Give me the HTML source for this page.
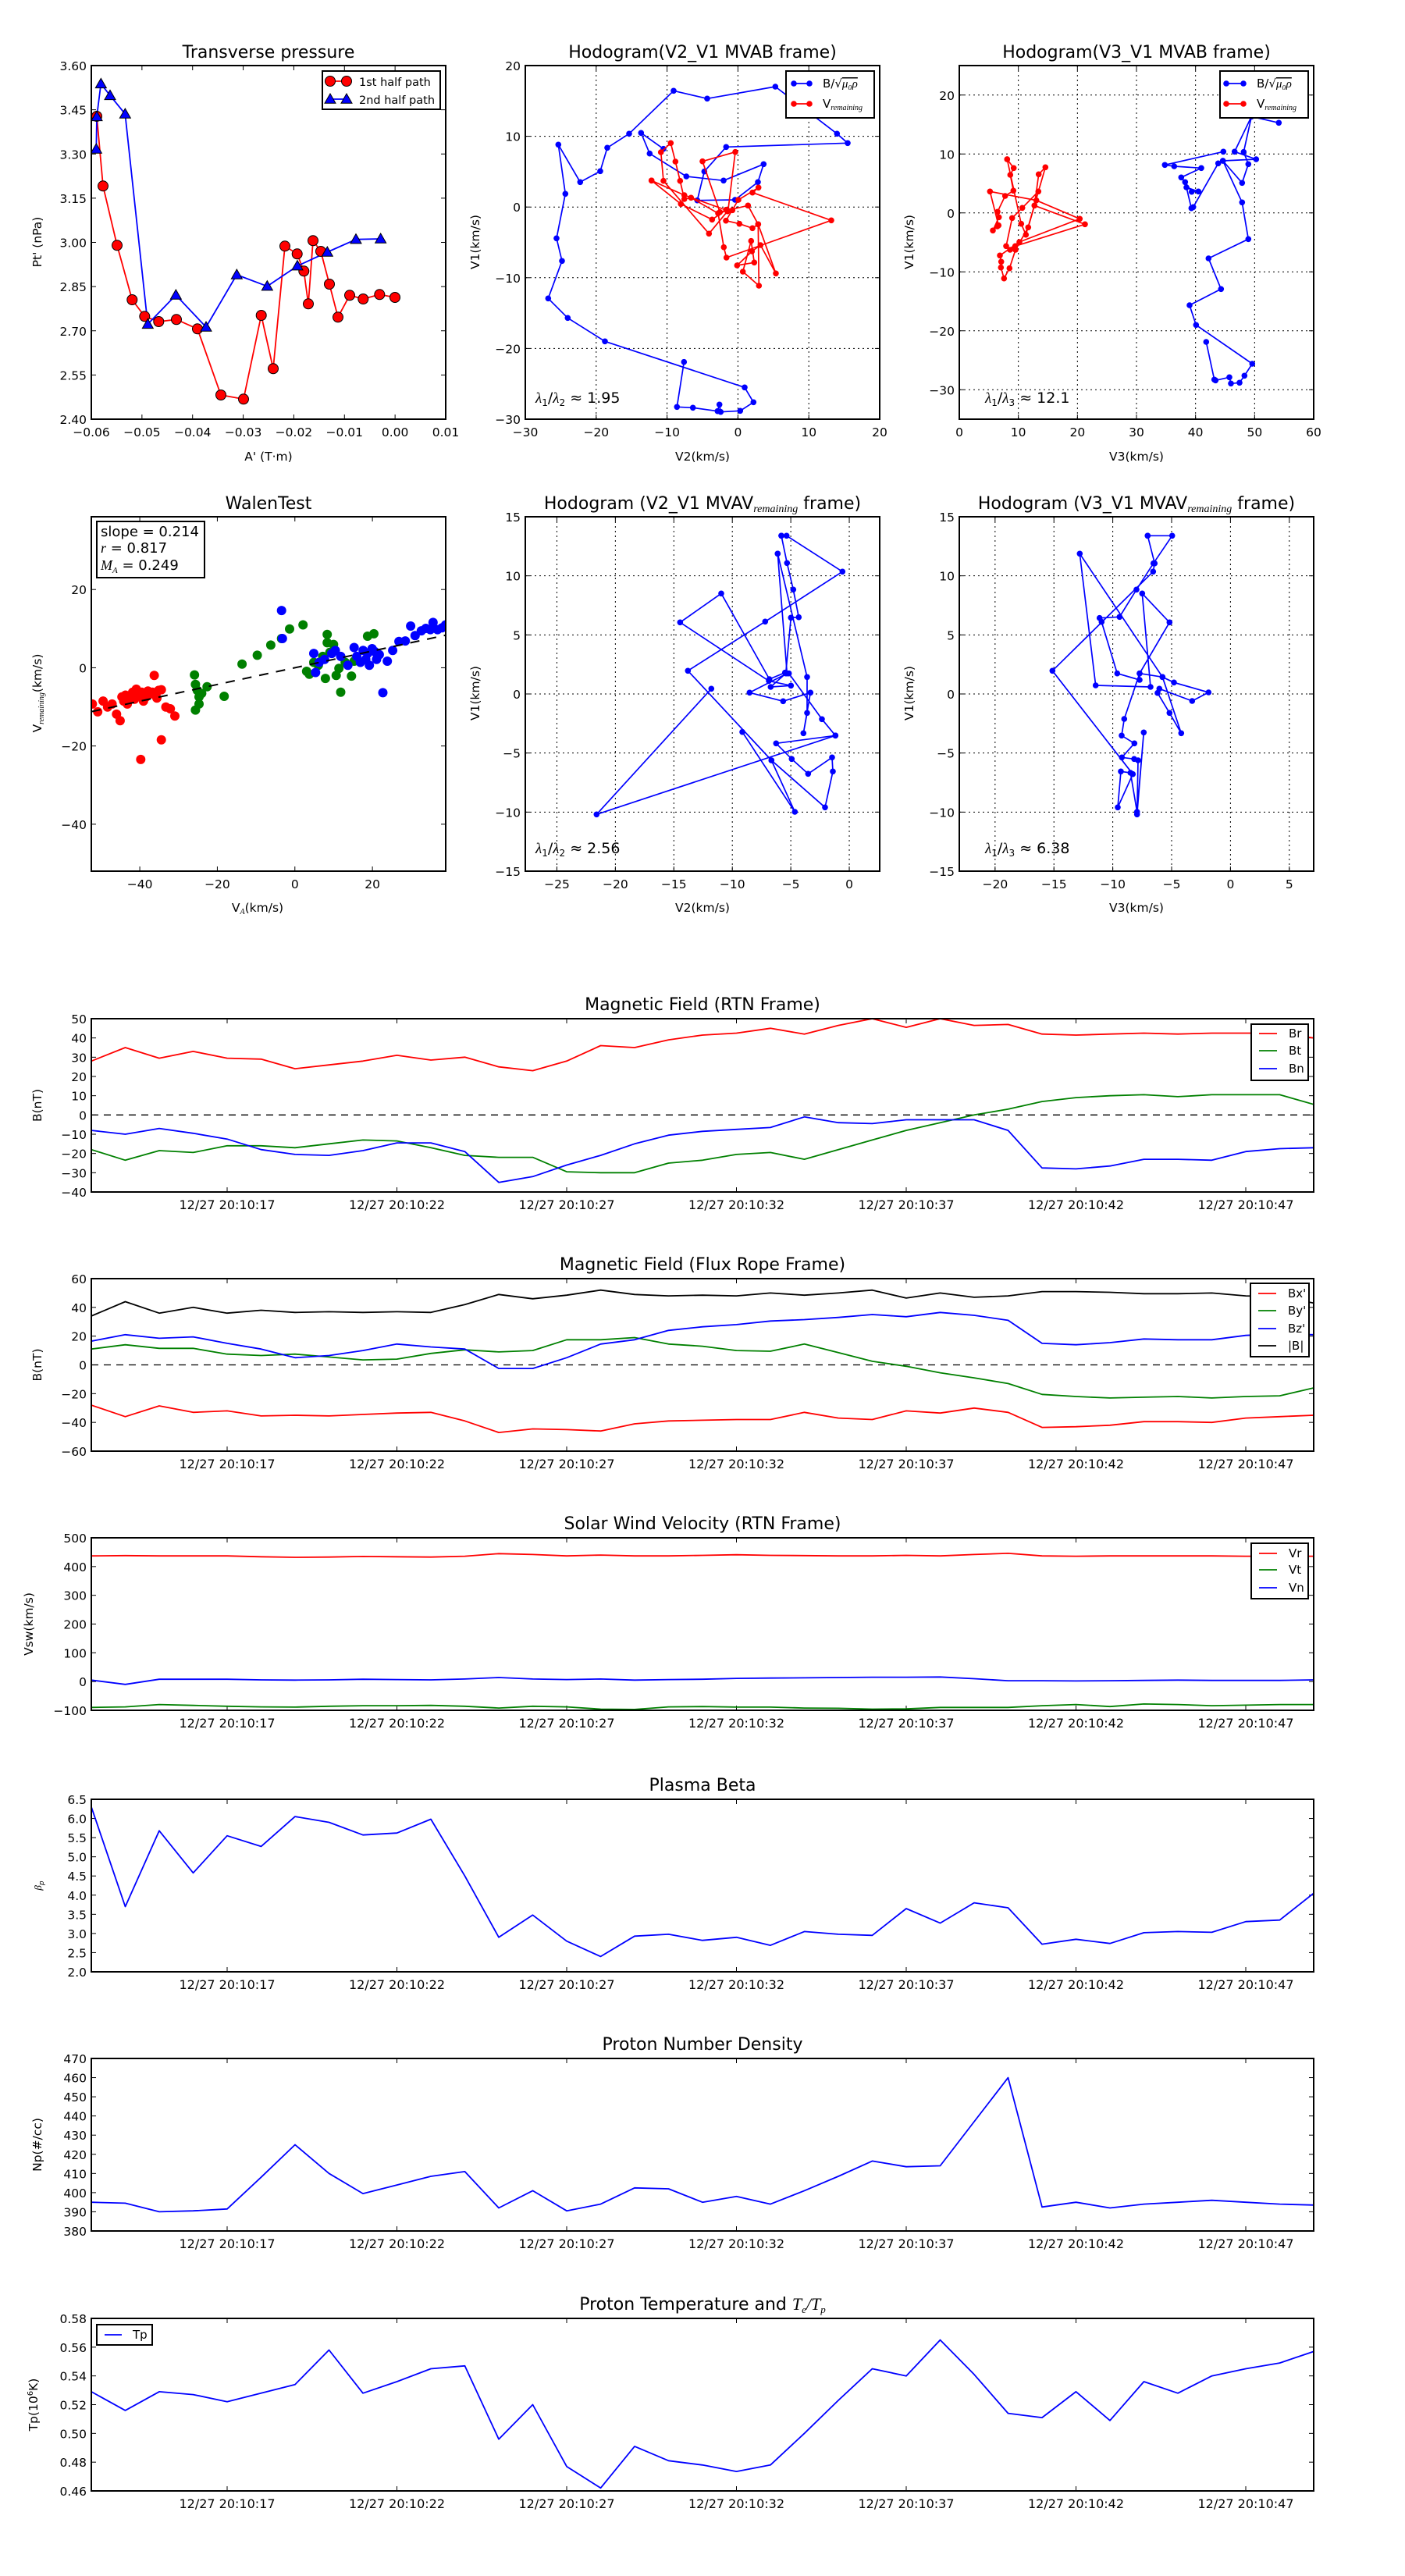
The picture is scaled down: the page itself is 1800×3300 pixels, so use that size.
<!DOCTYPE html>
<html><head><meta charset="utf-8"><style>
html,body{margin:0;padding:0;background:#fff;}
svg{display:block;}
text{font-family:"DejaVu Sans","Liberation Sans",sans-serif;fill:#000;}
</style></head><body>
<svg id="s" xmlns="http://www.w3.org/2000/svg" width="1800" height="3300" viewBox="0 0 1800 3300"></svg>
<script>
var s='';var cid=0;
function fmtm(v){return v<0?'\u2212'+String(-v):String(v);}
function txt(x,y,t,o){o=o||{};s+='<text x="'+x+'" y="'+y+'" font-size="'+(o.fs||15.5)+'" text-anchor="'+(o.a||'start')+'"'+(o.rot?' transform="rotate(-90 '+x+' '+y+')"':'')+(o.it?' font-style="italic" font-family="Liberation Serif,serif"':'')+'>'+t+'</text>';}
function pl(pts,c,w,dash){s+='<polyline fill="none" stroke="'+c+'" stroke-width="'+(w||1.6)+'" stroke-linejoin="round"'+(dash?' stroke-dasharray="'+dash+'"':'')+' points="'+pts.map(function(p){return p[0].toFixed(1)+','+p[1].toFixed(1)}).join(' ')+'"/>';}
function dots(pts,c,r,edge){pts.forEach(function(p){s+='<circle cx="'+p[0].toFixed(1)+'" cy="'+p[1].toFixed(1)+'" r="'+r+'" fill="'+c+'"'+(edge?' stroke="#000" stroke-width="1"':'')+'/>';});}
function tris(pts,c,r){pts.forEach(function(p){var x=p[0],y=p[1];s+='<polygon points="'+x+','+(y-r)+' '+(x-r)+','+(y+r*0.75)+' '+(x+r)+','+(y+r*0.75)+'" fill="'+c+'" stroke="#000" stroke-width="1"/>';});}
function axes(b,xr,yr,xt,yt,o){o=o||{};
 var mx=function(v){return b[0]+(v-xr[0])/(xr[1]-xr[0])*(b[2]-b[0]);};
 var my=function(v){return b[3]-(v-yr[0])/(yr[1]-yr[0])*(b[3]-b[1]);};
 xt.forEach(function(t){var v=t[0],px=mx(v);
  if(o.grid)s+='<line x1="'+px+'" y1="'+b[1]+'" x2="'+px+'" y2="'+b[3]+'" stroke="#000" stroke-width="1" stroke-dasharray="2,4"/>';
  s+='<line x1="'+px+'" y1="'+b[3]+'" x2="'+px+'" y2="'+(b[3]-6)+'" stroke="#000" stroke-width="1"/>';
  s+='<line x1="'+px+'" y1="'+b[1]+'" x2="'+px+'" y2="'+(b[1]+6)+'" stroke="#000" stroke-width="1"/>';
  txt(px,b[3]+22,t[1],{a:'middle',fs:o.tfs||15.5});});
 yt.forEach(function(t){var v=t[0],py=my(v);
  if(o.grid)s+='<line x1="'+b[0]+'" y1="'+py+'" x2="'+b[2]+'" y2="'+py+'" stroke="#000" stroke-width="1" stroke-dasharray="2,4"/>';
  s+='<line x1="'+b[0]+'" y1="'+py+'" x2="'+(b[0]+6)+'" y2="'+py+'" stroke="#000" stroke-width="1"/>';
  s+='<line x1="'+b[2]+'" y1="'+py+'" x2="'+(b[2]-6)+'" y2="'+py+'" stroke="#000" stroke-width="1"/>';
  txt(b[0]-6,py+6,t[1],{a:'end'});});
 return {mx:mx,my:my};}
function clipStart(b){cid++;s+='<clipPath id="c'+cid+'"><rect x="'+b[0]+'" y="'+b[1]+'" width="'+(b[2]-b[0])+'" height="'+(b[3]-b[1])+'"/></clipPath><g clip-path="url(#c'+cid+')">';}
function clipEnd(){s+='</g>';}
function frame(b){s+='<rect x="'+b[0]+'" y="'+b[1]+'" width="'+(b[2]-b[0])+'" height="'+(b[3]-b[1])+'" fill="none" stroke="#000" stroke-width="2"/>';}
function rng(a,b,st){var r=[];for(var v=a;v<=b+1e-9;v+=st)r.push(Math.round(v*1000)/1000);return r;}
function Z(ox,oy,arr){return arr.map(function(p){return [ox+p[0]/3,oy+p[1]/3];});}
function D(arr){return arr.map(function(p){return [p[0]*1.1486,p[1]*0.763+1.6];});}
function legbox(x0,y0,x1,y1){s+='<rect x="'+x0+'" y="'+y0+'" width="'+(x1-x0)+'" height="'+(y1-y0)+'" fill="#fff" stroke="#000" stroke-width="2"/>';}

// ===== Row 1 =====
var R1=[84,537],R2=[662,1116];
var C1=[117,571],C2=[673,1127],C3=[1229,1683];
// Transverse pressure
var b=[C1[0],R1[0],C1[1],R1[1]];
axes(b,[-0.06,0.01],[2.40,3.60],rng(-0.06,0.01,0.01).map(function(v){return [v,fmtm(v.toFixed(2)).replace('\u2212-','\u2212')];}),rng(2.4,3.6,0.15).map(function(v){return [v,v.toFixed(2)];}));
var red=Z(100,60,[[72,267],[96,535],[150,763],[208,972],[256,1036],[310,1056],[378,1048],[459,1084],[549,1338],[636,1354],[704,1032],[750,1237],[795,766],[842,796],[868,862],[885,988],[903,745],[933,786],[966,912],[999,1039],[1044,955],[1096,969],[1159,952],[1218,963]]);
var blu=Z(100,60,[[70,393],[72,268],[88,142],[123,187],[181,258],[268,1066],[376,954],[492,1077],[610,876],[727,920],[843,842],[958,789],[1068,740],[1163,738]]);
clipStart(b);pl(red,'#f00',1.8);pl(blu,'#00f',1.8);dots(red,'#f00',6.5,true);tris(blu,'#00f',7);clipEnd();
frame(b);
legbox(413,91,564,140);
pl([[423,104],[444,104]],'#f00',1.8);dots([[423,104],[444,104]],'#f00',6.5,true);txt(460,110,'1st half path',{fs:14.5});
pl([[423,127],[444,127]],'#00f',1.8);tris([[423,127],[444,127]],'#00f',7);txt(460,133,'2nd half path',{fs:14.5});
txt(344,74,'Transverse pressure',{a:'middle',fs:22});
txt(344,590,"A' (T\u00b7m)",{a:'middle'});
txt(53,310,"Pt' (nPa)",{a:'middle',rot:1});

// Hodogram V2_V1 MVAB
b=[C2[0],R1[0],C2[1],R1[1]];
axes(b,[-30,20],[-30,20],rng(-30,20,10).map(function(v){return [v,fmtm(v)];}),rng(-30,20,10).map(function(v){return [v,fmtm(v)];}),{grid:1});
var hb=Z(660,60,[[649,1211],[622,1384],[683,1387],[778,1400],[785,1375],[790,1403],[865,1399],[916,1366],[882,1309],[345,1132],[202,1042],[127,967],[180,823],[159,736],[193,565],[166,376],[250,520],[327,478],[354,388],[438,334],[609,169],[738,199],[1000,153],[1237,334],[1278,370],[811,385],[727,479],[700,590],[845,588],[933,520],[955,451],[801,514],[658,498],[517,410],[484,331],[570,392]]);
var hr=Z(660,60,[[524,514],[637,604],[757,664],[811,626],[835,628],[816,632],[745,718],[570,515],[560,405],[598,370],[616,441],[634,515],[650,585],[676,580],[780,640],[802,770],[812,810],[1215,667],[912,560],[935,541],[858,588],[810,668],[862,680],[912,697],[934,682],[937,918],[875,864],[907,746],[919,829],[853,840],[910,786],[943,762],[1002,871],[934,682],[895,610],[787,635],[720,440],[846,404],[818,630],[650,570],[524,514]]);
clipStart(b);pl(hb,'#00f',1.7);dots(hb,'#00f',3.8);pl(hr,'#f00',1.7);dots(hr,'#f00',3.8);clipEnd();frame(b);
legbox(1007,91,1120,151);
pl([[1017,107],[1037,107]],'#00f',1.8);dots([[1017,107],[1037,107]],'#00f',3.8);
s+='<text x="1054" y="112" font-size="15">B/\u221a<tspan font-style="italic" font-family="Liberation Serif,serif" text-decoration="overline">\u03bc\u2080\u03c1</tspan></text>';
pl([[1017,133],[1037,133]],'#f00',1.8);dots([[1017,133],[1037,133]],'#f00',3.8);
s+='<text x="1054" y="138" font-size="15">V<tspan font-size="10" font-style="italic" font-family="Liberation Serif,serif" dy="3">remaining</tspan></text>';
txt(900,74,'Hodogram(V2_V1 MVAB frame)',{a:'middle',fs:22});
txt(900,590,'V2(km/s)',{a:'middle'});
txt(614,310,'V1(km/s)',{a:'middle',rot:1});
s+='<text x="686" y="516" font-size="19"><tspan font-style="italic" font-family="Liberation Serif,serif">\u03bb</tspan><tspan font-size="12" dy="4">1</tspan><tspan dy="-4">/</tspan><tspan font-style="italic" font-family="Liberation Serif,serif">\u03bb</tspan><tspan font-size="12" dy="4">2</tspan><tspan dy="-4"> \u2248 1.95</tspan></text>';

// Hodogram V3_V1 MVAB
b=[C3[0],R1[0],C3[1],R1[1]];
axes(b,[0,60],[-35,25],rng(0,60,10).map(function(v){return [v,fmtm(v)];}),rng(-30,20,10).map(function(v){return [v,fmtm(v)];}),{grid:1});
var hb3=Z(1200,60,[[1102,403],[877,454],[913,459],[1017,466],[940,502],[955,520],[980,557],[1006,556],[960,540],[979,620],[986,616],[1082,448],[1100,438],[1174,523],[1198,451],[1180,404],[1210,268],[1315,292],[1210,268],[1145,403],[1228,432],[1100,438],[1174,598],[1198,739],[1045,813],[1093,931],[972,993],[997,1069],[1213,1218],[1183,1264],[1164,1291],[1131,1294],[1125,1270],[1072,1282],[1067,1279],[1036,1134]]);
var hr3=Z(1200,60,[[271,432],[296,466],[283,492],[295,553],[263,573],[234,634],[239,655],[216,706],[233,690],[238,686],[205,556],[383,590],[550,661],[318,750],[243,802],[248,826],[247,848],[259,890],[280,851],[303,780],[352,694],[376,610],[391,556],[329,619],[290,658],[267,766],[282,780],[302,766],[570,682],[376,610],[392,490],[418,463],[343,722],[325,680],[271,432]]);
clipStart(b);pl(hb3,'#00f',1.7);dots(hb3,'#00f',3.8);pl(hr3,'#f00',1.7);dots(hr3,'#f00',3.8);clipEnd();frame(b);
legbox(1563,91,1676,151);
pl([[1571,107],[1593,107]],'#00f',1.8);dots([[1571,107],[1593,107]],'#00f',3.8);
s+='<text x="1610" y="112" font-size="15">B/\u221a<tspan font-style="italic" font-family="Liberation Serif,serif" text-decoration="overline">\u03bc\u2080\u03c1</tspan></text>';
pl([[1571,133],[1593,133]],'#f00',1.8);dots([[1571,133],[1593,133]],'#f00',3.8);
s+='<text x="1610" y="138" font-size="15">V<tspan font-size="10" font-style="italic" font-family="Liberation Serif,serif" dy="3">remaining</tspan></text>';
txt(1456,74,'Hodogram(V3_V1 MVAB frame)',{a:'middle',fs:22});
txt(1456,590,'V3(km/s)',{a:'middle'});
txt(1170,310,'V1(km/s)',{a:'middle',rot:1});
s+='<text x="1262" y="516" font-size="19"><tspan font-style="italic" font-family="Liberation Serif,serif">\u03bb</tspan><tspan font-size="12" dy="4">1</tspan><tspan dy="-4">/</tspan><tspan font-style="italic" font-family="Liberation Serif,serif">\u03bb</tspan><tspan font-size="12" dy="4">3</tspan><tspan dy="-4"> \u2248 12.1</tspan></text>';

// ===== Row 2 =====
// Walen
b=[C1[0],R2[0],C1[1],R2[1]];
var W=axes(b,[-52.5,38.9],[-52,38.6],[-40,-20,0,20].map(function(v){return [v,fmtm(v)];}),[-40,-20,0,20].map(function(v){return [v,fmtm(v)];}));
var wr=D([[103,1180],[109,1193],[115,1175],[120,1185],[125,1180],[130,1197],[134,1208],[138,1175],[140,1165],[145,1170],[148,1160],[150,1172],[152,1155],[155,1165],[158,1160],[160,1175],[163,1168],[165,1158],[168,1163],[170,1160],[172,1132],[174,1162],[177,1157],[180,1156],[180,1240],[185,1185],[190,1188],[195,1200],[157,1273],[175,1170],[142,1180],[136,1168]]);
var wg=D([[217,1131],[218,1147],[220,1157],[222,1168],[218,1190],[222,1180],[225,1162],[231,1151],[250,1167],[270,1113],[287,1098],[302,1081],[314,1070],[323,1054],[338,1047],[342,1125],[345,1130],[350,1110],[355,1115],[360,1100],[363,1137],[365,1077],[368,1093],[372,1080],[375,1132],[378,1120],[380,1160],[385,1110],[392,1133],[395,1108],[410,1066],[417,1062],[365,1063]]);
var wb=D([[314,1023],[315,1070],[350,1095],[352,1127],[356,1110],[362,1105],[370,1095],[374,1090],[380,1100],[388,1115],[395,1085],[398,1100],[402,1110],[405,1090],[408,1105],[410,1095],[412,1115],[415,1087],[418,1092],[420,1105],[423,1097],[427,1161],[432,1108],[438,1090],[445,1075],[452,1074],[458,1049],[463,1065],[470,1057],[475,1053],[480,1055],[483,1043],[488,1055],[493,1052],[497,1047]]);
clipStart(b);dots(wr,'#f00',6);dots(wg,'#008000',6);dots(wb,'#00f',6);
pl([[W.mx(-52.5),W.my(-52.5*0.214)],[W.mx(38.9),W.my(38.9*0.214)]],'#000',2,'12,10');clipEnd();frame(b);
legbox(124,668,262,740);
txt(129,687,'slope = 0.214',{fs:18});
s+='<text x="129" y="708" font-size="18"><tspan font-style="italic" font-family="Liberation Serif,serif">r</tspan> = 0.817</text>';
s+='<text x="129" y="730" font-size="18"><tspan font-style="italic" font-family="Liberation Serif,serif">M</tspan><tspan font-size="11" font-style="italic" font-family="Liberation Serif,serif" dy="4">A</tspan><tspan dy="-4"> = 0.249</tspan></text>';
txt(344,652,'WalenTest',{a:'middle',fs:22});
s+='<text x="330" y="1168" font-size="15.5" text-anchor="middle">V<tspan font-size="10" font-style="italic" font-family="Liberation Serif,serif" dy="3">A</tspan><tspan dy="-3">(km/s)</tspan></text>';
s+='<text x="53" y="888" font-size="15.5" text-anchor="middle" transform="rotate(-90 53 888)">V<tspan font-size="10" font-style="italic" font-family="Liberation Serif,serif" dy="3">remaining</tspan><tspan dy="-3">(km/s)</tspan></text>';

// Hodogram V2_V1 MVAV
b=[C2[0],R2[0],C2[1],R2[1]];
axes(b,[-27.7,2.6],[-15,15],rng(-25,0,5).map(function(v){return [v,fmtm(v)];}),rng(-15,15,5).map(function(v){return [v,fmtm(v)];}),{grid:1});
var m1=[[1023,139],[1043,139],[1258,277],[961,469],[664,658],[985,1002],[1191,1183],[1221,1045],[1218,991],[1126,1054],[1063,997],[1003,937],[1231,907],[1179,844],[1052,668],[1037,665],[977,690],[792,361],[634,472],[975,697],[1060,715],[982,720],[1040,668],[1060,454],[1090,452],[1069,346],[1045,244],[1023,139]];
var m2=[[1009,208],[1122,682],[1122,820],[1108,898],[1135,742],[1030,775],[901,742],[1045,668],[1009,208]];
var m3=[[754,727],[313,1210],[1231,907]];var m4=[[873,893],[1075,1200],[985,1002]];
clipStart(b);[m1,m2,m3,m4].forEach(function(a){var p=Z(660,640,a);pl(p,'#00f',1.7);dots(p,'#00f',3.8);});clipEnd();frame(b);
s+='<text x="900" y="652" font-size="22" text-anchor="middle">Hodogram (V2_V1 MVAV<tspan font-size="14" font-style="italic" font-family="Liberation Serif,serif" dy="4">remaining</tspan><tspan dy="-4"> frame)</tspan></text>';
txt(900,1168,'V2(km/s)',{a:'middle'});
txt(614,888,'V1(km/s)',{a:'middle',rot:1});
s+='<text x="686" y="1093" font-size="19"><tspan font-style="italic" font-family="Liberation Serif,serif">\u03bb</tspan><tspan font-size="12" dy="4">1</tspan><tspan dy="-4">/</tspan><tspan font-style="italic" font-family="Liberation Serif,serif">\u03bb</tspan><tspan font-size="12" dy="4">2</tspan><tspan dy="-4"> \u2248 2.56</tspan></text>';

// Hodogram V3_V1 MVAV
b=[C3[0],R2[0],C3[1],R2[1]];
axes(b,[-23.04,7.07],[-15,15],rng(-20,5,5).map(function(v){return [v,fmtm(v)];}),rng(-15,15,5).map(function(v){return [v,fmtm(v)];}),{grid:1});
var n1=Z(1220,640,[[751,139],[845,139],[773,245],[708,346],[643,451],[566,455],[574,470],[634,668],[720,693],[720,668],[808,682],[852,703],[985,741],[922,774],[796,727],[789,743],[835,820],[880,898],[808,682],[490,208],[551,714],[762,720],[730,361],[835,472],[720,668],[661,843],[651,907],[700,937],[652,991],[699,997],[714,1002],[710,1210],[736,895],[710,1200],[685,1050],[648,1045],[636,1183],[694,1055],[385,658],[772,277],[778,245],[751,139]]);
clipStart(b);pl(n1,'#00f',1.7);dots(n1,'#00f',3.8);clipEnd();frame(b);
s+='<text x="1456" y="652" font-size="22" text-anchor="middle">Hodogram (V3_V1 MVAV<tspan font-size="14" font-style="italic" font-family="Liberation Serif,serif" dy="4">remaining</tspan><tspan dy="-4"> frame)</tspan></text>';
txt(1456,1168,'V3(km/s)',{a:'middle'});
txt(1170,888,'V1(km/s)',{a:'middle',rot:1});
s+='<text x="1262" y="1093" font-size="19"><tspan font-style="italic" font-family="Liberation Serif,serif">\u03bb</tspan><tspan font-size="12" dy="4">1</tspan><tspan dy="-4">/</tspan><tspan font-style="italic" font-family="Liberation Serif,serif">\u03bb</tspan><tspan font-size="12" dy="4">3</tspan><tspan dy="-4"> \u2248 6.38</tspan></text>';

// ===== Time series =====
var XT=[17,22,27,32,37,42,47].map(function(v){return [v,'12/27 20:10:'+v];});
function ts(y0,y1,yr,yt,yfmt,series,title,ylab,ylx,zero){
 var b=[117,y0,1683,y1];
 var A=axes(b,[13,49],yr,XT,yt.map(function(v){return [v,yfmt(v)];}),{tfs:16});
 clipStart(b);
 if(zero)pl([[117,A.my(0)],[1683,A.my(0)]],'#000',1.3,'9,7');
 series.forEach(function(se){pl(se[0].map(function(v,i){return [A.mx(13+i),A.my(v)];}),se[1],1.8);});
 clipEnd();frame(b);
 s+='<text x="900" y="'+(y0-11)+'" font-size="22" text-anchor="middle">'+title+'</text>';
 s+='<text x="'+ylx+'" y="'+((y0+y1)/2)+'" font-size="15.5" text-anchor="middle" transform="rotate(-90 '+ylx+' '+((y0+y1)/2)+')">'+ylab+'</text>';
 return A;}
function tl(v){return fmtm(v);}
function legend(x0,y0,x1,y1,rows){legbox(x0,y0,x1,y1);rows.forEach(function(r){pl([[x0+10,r[0]],[x0+33,r[0]]],r[1],1.8);txt(x0+48,r[0]+5,r[2],{fs:15});});}

var Br=[28,35,29.5,33,29.5,29,24,26,28,31,28.5,30,25,23,28,36,35,39,41.5,42.5,45,42,46.5,50,45.5,50,46.5,47,42,41.5,42,42.5,42,42.5,42.5,42.5,40];
var Bt=[-18,-23.5,-18.5,-19.5,-16,-16,-17,-15,-13,-13.5,-17,-21,-22,-22,-29.5,-30,-30,-25,-23.5,-20.5,-19.5,-23,-18,-13,-8,-4,0,3,7,9,10,10.5,9.5,10.5,10.5,10.5,5.5];
var Bn=[-8,-10,-7,-9.5,-12.5,-18,-20.5,-21,-18.5,-14.5,-14.5,-19,-35,-32,-26,-21,-15,-10.5,-8.5,-7.5,-6.5,-1,-4,-4.5,-2.5,-2.5,-2.5,-8,-27.5,-28,-26.5,-23,-23,-23.5,-19,-17.5,-17];
ts(1305,1527,[-40,50],rng(-40,50,10),tl,[[Br,'#f00'],[Bt,'#008000'],[Bn,'#00f']],'Magnetic Field (RTN Frame)','B(nT)',53,1);
legend(1603,1312,1676,1384,[[1324,'#f00','Br'],[1346,'#008000','Bt'],[1369,'#00f','Bn']]);

var Bm=[34,44,36,40,36,38,36.5,37,36.5,37,36.5,42,49,46,48.5,52,49,48,48.5,48,50,48.5,50,52,46.5,50,47,48,51,51,50.5,49.5,49.5,50,48,47.5,43];
var Bz=[16.5,21,18.5,19.5,15,11,5,6.5,10,14.5,12.5,11,-2.5,-2.5,5,14.5,17.5,24,26.5,28,30.5,31.5,33,35,33.5,36.5,34.5,31,15,14,15.5,18,17.5,17.5,20.5,21.5,21];
var By=[11,14,11.5,11.5,7.5,6.5,7.5,5.5,3.5,4,8,10.5,9,10,17.5,17.5,19,14.5,13,10,9.5,14.5,8.5,2.5,-1,-5.5,-9,-13,-20.5,-22,-23,-22.5,-22,-23,-22,-21.5,-16];
var Bx=[-28,-36,-28.5,-33,-32,-35.5,-35,-35.5,-34.5,-33.5,-33,-39,-47,-44.5,-45,-46,-41,-39,-38.5,-38,-38,-33,-37,-38,-32,-33.5,-30,-33,-43.5,-43,-42,-39.5,-39.5,-40,-37,-36,-35];
ts(1638,1859,[-60,60],rng(-60,60,20),tl,[[Bx,'#f00'],[By,'#008000'],[Bz,'#00f'],[Bm,'#000']],'Magnetic Field (Flux Rope Frame)','B(nT)',53,1);
legend(1602,1644,1677,1738,[[1657,'#f00',"Bx'"],[1679,'#008000',"By'"],[1702,'#00f',"Bz'"],[1724,'#000','|B|']]);

var Vr=[437,438,437,437,437,434,432,433,435,434,433,436,445,442,437,440,437,437,439,441,439,438,437,437,439,437,442,446,437,436,437,437,437,437,436,436,436];
var Vn=[5,-10,8,8,8,6,5,6,8,7,6,9,14,9,7,9,5,7,8,11,12,13,14,15,15,16,10,3,3,2,3,4,5,4,4,4,6];
var Vt=[-90,-88,-80,-83,-86,-88,-89,-86,-84,-84,-83,-86,-92,-86,-88,-96,-97,-88,-87,-89,-89,-92,-93,-96,-95,-90,-90,-90,-84,-80,-87,-78,-80,-84,-82,-80,-80];
ts(1970,2191,[-100,500],rng(-100,500,100),tl,[[Vr,'#f00'],[Vt,'#008000'],[Vn,'#00f']],'Solar Wind Velocity (RTN Frame)','Vsw(km/s)',42,0);
legend(1603,1977,1676,2048,[[1990,'#f00','Vr'],[2011,'#008000','Vt'],[2034,'#00f','Vn']]);

var Be=[6.3,3.7,5.68,4.58,5.55,5.27,6.05,5.9,5.57,5.62,5.98,4.5,2.9,3.48,2.8,2.4,2.93,2.98,2.82,2.9,2.69,3.05,2.98,2.95,3.65,3.27,3.8,3.67,2.72,2.85,2.74,3.02,3.05,3.03,3.31,3.35,4.05];
ts(2305,2526,[2,6.5],rng(2,6.5,0.5),function(v){return v.toFixed(1);},[[Be,'#00f']],'Plasma Beta','<tspan font-style="italic" font-family="Liberation Serif,serif" font-size="13">\u03b2</tspan><tspan font-size="9" font-style="italic" dy="3">p</tspan>',53,0);

var Np=[395,394.5,390,390.5,391.5,408,425,410,399.5,404,408.5,411,392,401,390.5,394,402.5,402,395,398,394,401,408.5,416.5,413.5,414,437,460,392.5,395,392,394,395,396,395,394,393.5];
ts(2637,2858,[380,470],rng(380,470,10),tl,[[Np,'#00f']],'Proton Number Density','Np(#/cc)',53,0);

var Tp=[0.529,0.516,0.529,0.527,0.522,0.528,0.534,0.558,0.528,0.536,0.545,0.547,0.496,0.520,0.477,0.462,0.491,0.481,0.478,0.4735,0.478,0.500,0.523,0.545,0.540,0.565,0.541,0.514,0.511,0.529,0.509,0.536,0.528,0.540,0.545,0.549,0.557];
ts(2970,3191,[0.46,0.58],rng(0.46,0.58,0.02),function(v){return v.toFixed(2);},[[Tp,'#00f']],'Proton Temperature and <tspan font-style="italic" font-family="Liberation Serif,serif">T</tspan><tspan font-size="13" font-style="italic" font-family="Liberation Serif,serif" dy="4">e</tspan><tspan dy="-4" font-style="italic" font-family="Liberation Serif,serif">/T</tspan><tspan font-size="13" font-style="italic" font-family="Liberation Serif,serif" dy="4">p</tspan>','Tp(10<tspan font-size="10" dy="-6">6</tspan><tspan dy="6">K)</tspan>',48,0);
legbox(124,2978,195,3004);pl([[134,2991],[156,2991]],'#00f',1.8);txt(170,2996,'Tp',{fs:15});

document.getElementById('s').innerHTML=s;
</script>
</body></html>
